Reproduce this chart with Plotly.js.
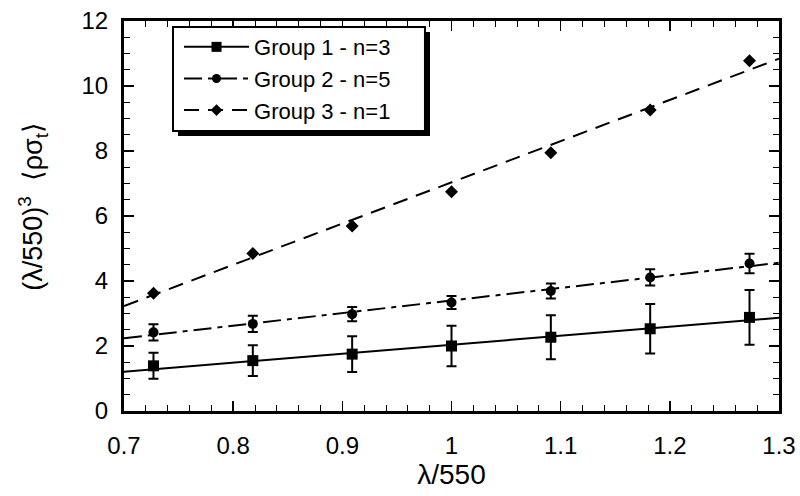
<!DOCTYPE html>
<html>
<head>
<meta charset="utf-8">
<script src="https://cdn.plot.ly/plotly-3.0.1.min.js"></script>
<style>html,body{margin:0;padding:0;background:#fff;}#chart{width:800px;height:496px;}</style>
</head>
<body>
<div id="chart"></div>
<script>
// wavelength ratio lambda/550
const xVals = [0.727, 0.818, 0.909, 1.0, 1.091, 1.182, 1.273];

const group1Y = [1.39, 1.55, 1.75, 2.0, 2.27, 2.53, 2.88];
const group1Err = [0.4, 0.47, 0.55, 0.62, 0.68, 0.76, 0.84];
const group2Y = [2.42, 2.68, 2.98, 3.34, 3.69, 4.11, 4.54];
const group2Err = [0.25, 0.25, 0.22, 0.2, 0.23, 0.25, 0.3];
const group3Y = [3.62, 4.85, 5.69, 6.75, 7.95, 9.26, 10.78];

// fitted straight lines (end points)
const fitX = [0.7, 1.3];
const fit1Y = [1.21, 2.87];
const fit2Y = [2.24, 4.56];
const fit3Y = [3.23, 10.84];

const names = ['Group 1 - n=3', 'Group 2 - n=5', 'Group 3 - n=1'];
const xTitle = 'λ/550';
const yTitle = '(λ/550)<sup>3</sup>\u00a0\u00a0⟨ρσ<sub>t</sub>⟩';

const FONT = 'Liberation Sans, Arial, Helvetica, sans-serif';

function pts(y, err, symbol, size) {
  const t = {
    x: xVals, y: y, type: 'scatter', mode: 'markers', showlegend: false,
    marker: {symbol: symbol, size: size, color: '#000'},
    hoverinfo: 'skip'
  };
  if (err) t.error_y = {type: 'data', array: err, visible: true, color: '#000', thickness: 2, width: 5};
  return t;
}
function fit(y, dash, name, symbol, size) {
  return {
    x: fitX, y: y, type: 'scatter', mode: 'lines+markers', name: name,
    line: {color: '#000', width: 2, dash: dash},
    marker: {symbol: symbol, size: size, color: '#000'},
    selectedpoints: [],
    unselected: {marker: {opacity: 0}},
    hoverinfo: 'skip'
  };
}

const data = [
  fit(fit1Y, 'solid', names[0], 'square', 10),
  fit(fit2Y, '18px,6px,5px,6px', names[1], 'circle', 9),
  fit(fit3Y, '15px,9px', names[2], 'diamond', 9),
  pts(group1Y, group1Err, 'square', 11),
  pts(group2Y, group2Err, 'circle', 10),
  pts(group3Y, null, 'diamond', 10)
];

const axisCommon = {
  showline: true, linecolor: '#000', linewidth: 3, mirror: 'allticks',
  ticks: 'inside', ticklen: 10, tickwidth: 1.5, tickcolor: '#000',
  showgrid: false, zeroline: false,
  tickfont: {family: FONT, size: 24, color: '#000'}
};

const layout = {
  width: 800, height: 496,
  margin: {l: 124, r: 21, t: 21, b: 85},
  paper_bgcolor: '#fff', plot_bgcolor: '#fff',
  font: {family: FONT, color: '#000'},
  xaxis: Object.assign({}, axisCommon, {
    range: [0.7, 1.3], dtick: 0.1, tick0: 0.7,
    ticklabelstandoff: 11,
    minor: {dtick: 0.02, ticks: 'inside', ticklen: 6, tickwidth: 1, tickcolor: '#000', showgrid: false},
    title: {text: xTitle, font: {family: FONT, size: 28, color: '#000'}, standoff: 4}
  }),
  yaxis: Object.assign({}, axisCommon, {
    range: [0, 12], dtick: 2, tick0: 0,
    ticklabelstandoff: 8,
    minor: {dtick: 0.5, ticks: 'inside', ticklen: 6, tickwidth: 1, tickcolor: '#000', showgrid: false}
  }),
  legend: {
    x: 0.084, y: 0.987, xanchor: 'left', yanchor: 'top',
    bgcolor: 'rgba(0,0,0,0)', borderwidth: 0,
    itemwidth: 65,
    font: {family: FONT, size: 22, color: '#000'}
  },
  annotations: [{
    text: yTitle, xref: 'paper', yref: 'paper',
    x: -0.139, y: 0.526, xanchor: 'center', yanchor: 'middle',
    textangle: -90, showarrow: false,
    font: {family: FONT, size: 27, color: '#000'}
  }],
  shapes: [{
    type: 'rect', xref: 'paper', yref: 'paper',
    x0: 0.0824, x1: 0.4672, y0: 0.7051, y1: 0.9718,
    fillcolor: '#000', line: {width: 0}, layer: 'above'
  }, {
    type: 'rect', xref: 'paper', yref: 'paper',
    x0: 0.0748, x1: 0.4595, y0: 0.7179, y1: 0.9846,
    fillcolor: '#fff', line: {width: 2, color: '#000'}, layer: 'above'
  }]
};

Plotly.newPlot('chart', data, layout, {displayModeBar: false, staticPlot: true});
</script>
</body>
</html>
